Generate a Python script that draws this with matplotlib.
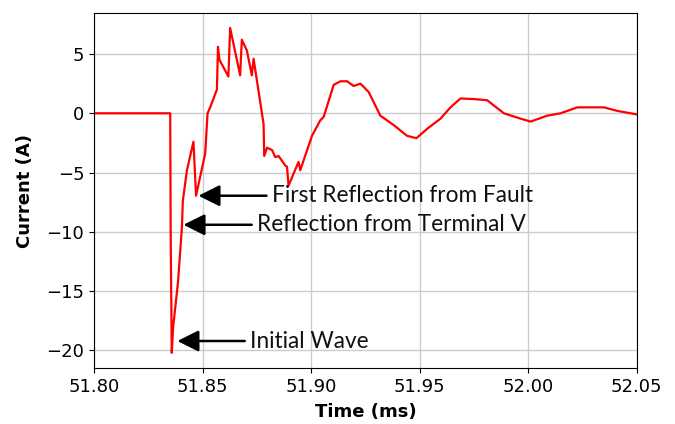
import matplotlib
matplotlib.use("Agg")
import matplotlib.pyplot as plt

# current trace (ms, A)
t_ms = [51.800, 51.8351, 51.8353, 51.8358, 51.8364, 51.8387, 51.8405, 51.8409,
        51.8428, 51.8458, 51.8470, 51.8512, 51.8523, 51.8535, 51.8566, 51.8571,
        51.8578, 51.8619, 51.8627, 51.8673, 51.8681, 51.8704, 51.8727, 51.8735,
        51.8781, 51.8784, 51.8797, 51.8820, 51.8835, 51.8850, 51.8881, 51.8889,
        51.8896, 51.8942, 51.8950, 51.9004, 51.9042, 51.9058, 51.9104, 51.9135,
        51.9166, 51.9196, 51.9227, 51.9265, 51.9319, 51.9381, 51.9442, 51.9485,
        51.9535, 51.9596, 51.9642, 51.9688, 51.9750, 51.9811, 51.9888, 51.9965,
        52.0011, 52.0088, 52.0149, 52.0226, 52.0303, 52.0349, 52.0411, 52.0503]
current = [0.0, 0.0, -10.0, -20.2, -18.1, -14.2, -9.6, -7.4,
           -4.8, -2.4, -6.95, -3.4, 0.0, 0.5, 2.0, 5.6,
           4.5, 3.1, 7.2, 3.2, 6.2, 5.3, 3.2, 4.6,
           -0.9, -3.6, -2.9, -3.1, -3.7, -3.6, -4.4, -4.5,
           -6.1, -4.1, -4.8, -1.9, -0.6, -0.3, 2.4, 2.7,
           2.7, 2.3, 2.5, 1.8, -0.2, -1.0, -1.9, -2.1,
           -1.3, -0.45, 0.5, 1.25, 1.2, 1.1, 0.0, -0.45,
           -0.7, -0.2, 0.0, 0.5, 0.5, 0.5, 0.2, -0.1]

# annotations: label, arrow tip (t, A), text start t
notes = ["Initial Wave", "Reflection from Terminal V", "First Reflection from Fault"]
tip_t = [51.8384, 51.8412, 51.8481]
tip_a = [-19.2, -9.4, -6.95]
text_t = [51.8720, 51.8752, 51.8820]

xticks = [51.80, 51.85, 51.90, 51.95, 52.00, 52.05]
yticks = [-20, -15, -10, -5, 0, 5]

fig = plt.figure(figsize=(6.75, 4.24), dpi=100)
ax = fig.add_axes([0.1393, 0.1314, 0.804, 0.8386])

ax.plot(t_ms, current, color='red', lw=1.6)

for lab, xt, yt, xx in zip(notes, tip_t, tip_a, text_t):
    ax.annotate(lab, xy=(xt, yt), xytext=(xx, yt), va='center', ha='left',
                fontsize=16.3, family=['Lato', 'DejaVu Sans'], color='#111111',
                arrowprops=dict(arrowstyle='-|>,head_length=1.0,head_width=0.5',
                                color='black', lw=1.8, mutation_scale=13,
                                shrinkA=2, shrinkB=0))

ax.set_xlim(51.80, 52.05)
ax.set_ylim(-21.5, 8.48)
ax.set_xticks(xticks)
ax.set_xticklabels(['%.2f' % v for v in xticks])
ax.set_yticks(yticks)
ax.tick_params(labelsize=13)
ax.grid(True, color='#cccccc', lw=1)
ax.set_axisbelow(True)
ax.set_xlabel('Time (ms)', fontsize=13, fontweight='bold', labelpad=5)
ax.set_ylabel('Current (A)', fontsize=13, fontweight='bold', labelpad=9)

fig.savefig('out.png', dpi=100)
